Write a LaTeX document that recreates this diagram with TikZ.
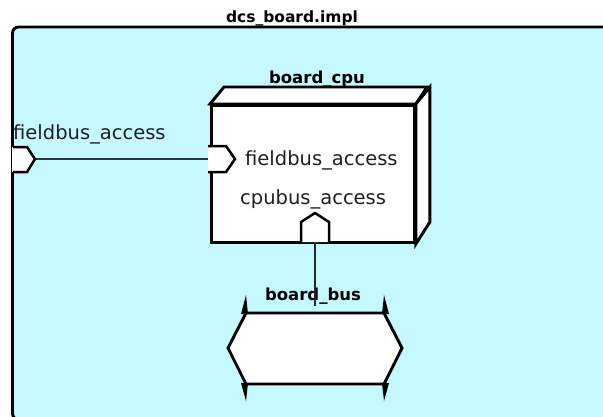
\documentclass[tikz,border=0pt]{standalone}
\usepackage{fontspec}
\setmainfont{DejaVu Sans}
\definecolor{pkgfill}{HTML}{C6F8FF}
\definecolor{wiregray}{HTML}{2E3838}
\begin{document}
\begin{tikzpicture}[x=1pt,y=-1pt,
  outline/.style={draw=black,line width=2.9pt,line join=miter},
  partface/.style={outline,fill=white},
  portshape/.style={draw=black,line width=2.5pt,fill=white,line join=miter},
  portlabel/.style={font=\fontsize{19.5}{20}\selectfont,text=black!88,inner sep=0pt,anchor=base west},
  partlabel/.style={font=\fontsize{16.5}{17}\bfseries\selectfont,inner sep=0pt,anchor=base},
  wire/.style={draw=wiregray,line width=1.6pt},
  spike/.style={fill=black}]
\useasboundingbox (0,0) rectangle (603,416);
\fill[white] (0,0) rectangle (603,416);

% package frame (runs past the right and bottom edges)
\begin{scope}
  \clip (0,0) rectangle (603,416);
  \draw[outline,fill=pkgfill,rounded corners=6pt] (12.5,27) rectangle (640,419.5);
\end{scope}
\node[partlabel,font=\fontsize{15.5}{16}\bfseries\selectfont] (title) at (292,22) {dcs\_board.impl};

% board_cpu part: front face plus top and right faces
\node[partface,minimum width=203,minimum height=137,anchor=north west,inner sep=0pt] (cpu) at (210,104) {};
\draw[partface] (cpu.north west) -- ++(14,-17) -- ++(203,0) -- (cpu.north east) -- cycle;
\draw[partface] (cpu.north east) -- ++(14,-17) -- ++(0,135) -- (cpu.south east) -- cycle;
\node[partlabel] (cpuname) at (317,83) {board\_cpu};

% fieldbus_access delegation
\coordinate (extTip) at (35,159);
\coordinate (cpuFieldIn) at (209,159);
\draw[wire] (extTip) -- (cpuFieldIn);
\fill[white] (12,147) -- (27,147) -- (35,159) -- (27,172) -- (12,172) -- cycle;
\draw[portshape,fill=none] (13,147) -- (27,147) -- (35,159) -- (27,172) -- (13,172);
\node[portlabel] (extlabel) at (13,139) {fieldbus\_access};

\fill[white] (208,146) -- (226,146) -- (235,159) -- (226,172) -- (208,172) -- cycle;
\draw[portshape,fill=none] (208,146) -- (226,146) -- (235,159) -- (226,172) -- (208,172);
\node[portlabel] (fieldlabel) at (245,165) {fieldbus\_access};

% cpubus_access port and its wire to the bus
\coordinate (cpuBusOut) at (315,241);
\coordinate (busTop) at (315,306);
\node[portlabel] (buslabelport) at (240,204) {cpubus\_access};

% board_bus
\draw[partface] (246,313) -- (384,313) -- (402,348) -- (384,384) -- (246,384) -- (228,348) -- cycle;
\fill[spike] (246,295) -- (241,314) -- (248,314) -- cycle;
\fill[spike] (246,401) -- (241,383) -- (248,383) -- cycle;
\fill[spike] (384,295) -- (389,314) -- (382,314) -- cycle;
\fill[spike] (384,401) -- (389,383) -- (382,383) -- cycle;
\node[partlabel] (busname) at (313,300) {board\_bus};

\draw[wire,draw=black!85,line width=1.4pt] (cpuBusOut) -- (busTop);
\fill[white] (301,242) -- (301,222) -- (315,213) -- (329,222) -- (329,242) -- cycle;
\draw[portshape,fill=none] (301,242) -- (301,222) -- (315,213) -- (329,222) -- (329,242);
\end{tikzpicture}
\end{document}
